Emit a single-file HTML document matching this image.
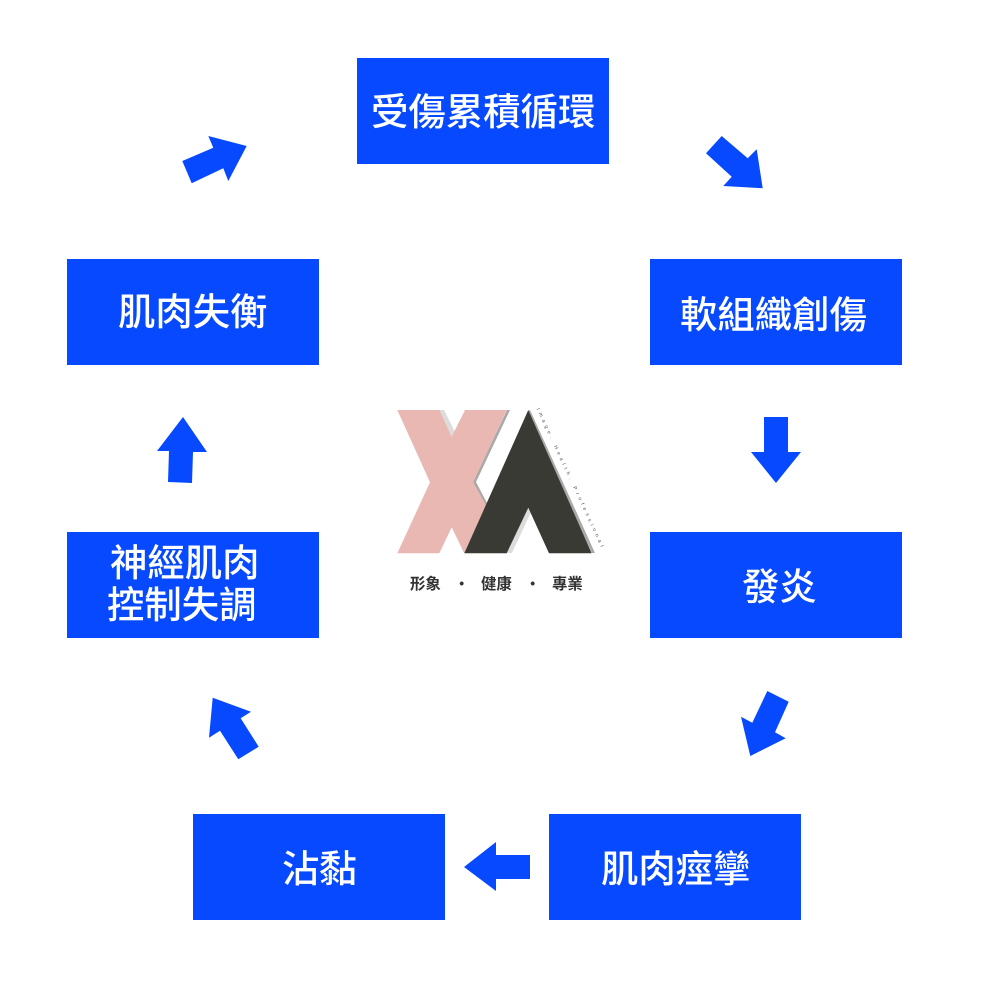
<!DOCTYPE html>
<html lang="zh-Hant">
<head>
<meta charset="utf-8">
<style>
html,body{margin:0;padding:0;background:#fff;width:1000px;height:1000px;overflow:hidden}
svg{display:block}
text{font-family:"Liberation Sans","Noto Sans CJK TC",sans-serif}
.t{fill:#fff;font-size:37.4px;font-weight:500}
.s{fill:#333;font-size:15.4px;font-weight:700}
</style>
</head>
<body>
<svg width="1000" height="1000" viewBox="0 0 1000 1000" xmlns="http://www.w3.org/2000/svg">
<rect width="1000" height="1000" fill="#fff"/>
<g fill="#0749ff">
<rect x="357" y="58" width="252" height="106"/>
<rect x="650" y="259" width="252" height="106"/>
<rect x="650" y="532" width="252" height="106"/>
<rect x="549" y="814" width="252" height="106"/>
<rect x="193" y="814" width="252" height="106"/>
<rect x="67" y="532" width="252" height="106"/>
<rect x="67" y="259" width="252" height="106"/>
<polygon points="182.3,161 213.3,147.7 208.3,136 246.7,146 228.3,181 223.3,168.3 191.7,183.3"/>
<polygon points="721.7,136 747.7,158.3 756.7,149.3 762.7,188.3 723.3,186 731.7,176.7 706,153.3"/>
<polygon points="764,417 788,417 788,452 801,452 776,483 751,452 764,452"/>
<polygon points="767.3,691 788.7,701.7 775,732.3 785.7,738.3 750.3,756 741,716.7 752.3,722.7"/>
<polygon points="464,867 496,842 496,855 530,855 530,879 496,879 496,891"/>
<polygon points="212.7,697.7 251,711.7 240.7,718.3 258.7,746.7 238.3,759.3 220,730.7 209,737.7"/>
<polygon points="183,417 207,452 193,452 192,483 168,482 169,451 157,451"/>
</g>
<text class="t" x="371" y="125">受傷累積循環</text>
<text class="t" x="680" y="328">軟組織創傷</text>
<text class="t" x="742" y="600">發炎</text>
<text class="t" x="601" y="882">肌肉痙攣</text>
<text class="t" x="282" y="882">沾黏</text>
<text class="t" x="110" y="576">神經肌肉</text>
<text class="t" x="107" y="618">控制失調</text>
<text class="t" x="118" y="325">肌肉失衡</text>
<!-- logo -->
<polygon points="439,410 444,410 456,434 452,437" fill="#dcdcdc"/>
<polygon points="452,527 455,527 468,553 464,553" fill="#dcdcdc"/>
<polygon points="507,410 510,410 476,482 487,503 485,507 473,482" fill="#a9a9a9"/>
<polygon points="528,508 531,512 512,553 507,553" fill="#dcdcdc"/>
<polygon points="530,410 595,553 592,553 527,412" fill="#a9a9a9"/>
<polygon points="397.3,410 439.3,410 451.7,436.7 465,410 506.7,410 473.3,482.3 486,505 464.3,553.3 451.7,527.3 439.3,553.3 397.3,553.3 430,482.3" fill="#e9b8b3"/>
<polygon points="528.3,410 591.7,553.3 549,553.3 528.3,507.7 506.7,553.3 464.3,553.3" fill="#383a33"/>
<text x="536.5" y="409" font-size="5" letter-spacing="3.5" fill="#555" transform="rotate(65 536.5 409)">Image. Health. Professional</text>
<text class="s" x="410" y="589">形象</text>
<text class="s" x="454" y="589" font-size="13">‧</text>
<text class="s" x="481" y="589">健康</text>
<text class="s" x="525" y="589" font-size="13">‧</text>
<text class="s" x="552" y="589">專業</text>
</svg>
</body>
</html>
